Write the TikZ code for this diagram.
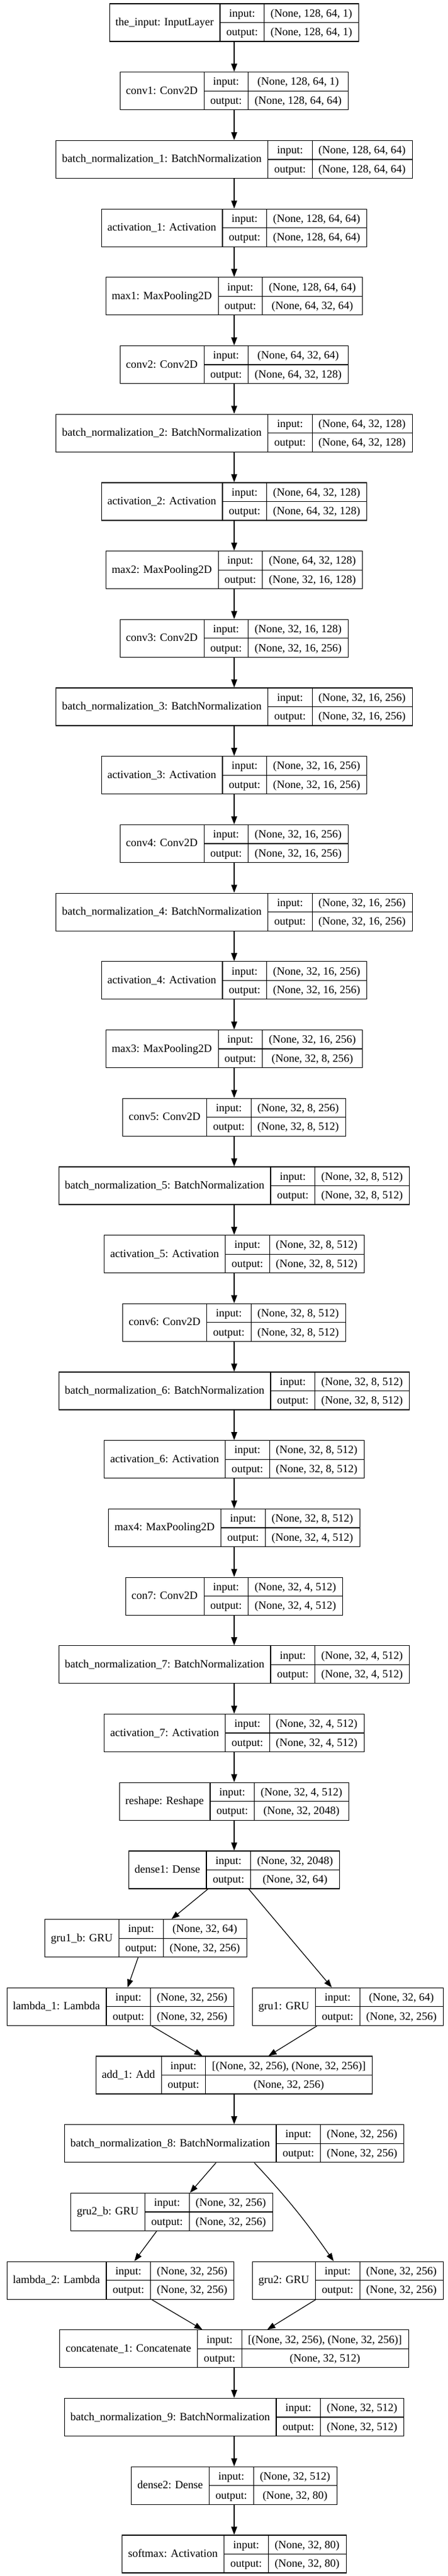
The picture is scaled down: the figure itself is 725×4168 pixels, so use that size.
\documentclass[tikz,border=0pt]{standalone}
\usepackage{fontspec}
\setmainfont{Liberation Serif}
\usetikzlibrary{arrows.meta,calc,positioning}

\newcommand\rfont{\fontsize{18}{21}\selectfont}
\newlength\wlab \newlength\wio \newlength\wshp \newlength\wtmp

% #1 node name, #2 x of centre, #3 rank, #4 layer, #5 input shape, #6 output shape
\newcommand\layer[6]{%
  \pgfinterruptpicture
    \settowidth\wtmp{\rfont #4}\global\wlab=\wtmp
    \settowidth\wtmp{\rfont output:}\global\wio=\wtmp
    \settowidth\wtmp{\rfont #5}\global\wshp=\wtmp
    \settowidth\wtmp{\rfont #6}\ifdim\wtmp>\wshp \global\wshp=\wtmp\fi
  \endpgfinterruptpicture
  \global\advance\wlab by 20.6pt
  \global\advance\wio by 20.6pt
  \global\advance\wshp by 20.6pt
  \node[record, minimum width=\wlab+\wio+\wshp] (#1) at (#2,{-36.5-(#3-1)*110.7}) {};
  \draw[rule] ([xshift=\wlab]#1.north west) -- ([xshift=\wlab]#1.south west);
  \draw[rule] ([xshift=\wlab+\wio]#1.north west) -- ([xshift=\wlab+\wio]#1.south west);
  \draw[rule] ([xshift=\wlab]#1.west) -- (#1.east);
  \path ([xshift=\wlab/2, yshift=-5pt]#1.west) node[txt] {#4};
  \path ([xshift=\wlab+\wio/2, yshift=9.25pt]#1.west) node[txt] {input:};
  \path ([xshift=\wlab+\wio/2, yshift=-21.25pt]#1.west) node[txt] {output:};
  \path ([xshift=\wlab+\wio+\wshp/2, yshift=9.25pt]#1.west) node[txt] {#5};
  \path ([xshift=\wlab+\wio+\wshp/2, yshift=-21.25pt]#1.west) node[txt] {#6};
}

\begin{document}
\begin{tikzpicture}[x=1pt,y=1pt]
\tikzstyle{record}=[draw, line width=1.2pt, minimum height=61pt, inner sep=0pt]
\tikzstyle{rule}=[line width=1.2pt]
\tikzstyle{txt}=[anchor=base, inner sep=0pt, font=\rfont]
\tikzstyle{every edge}=[draw, line width=1.2pt, -{Triangle[length=13pt,width=9.5pt]}]

\fill[white] (0,0) rectangle (725,-4168);
\useasboundingbox (0,0) rectangle (725,-4168);

% convolutional part
\layer{inp}{379}{1}{the\_input: InputLayer}{(None, 128, 64, 1)}{(None, 128, 64, 1)}
\layer{conv1}{379}{2}{conv1: Conv2D}{(None, 128, 64, 1)}{(None, 128, 64, 64)}
\layer{bn1}{379}{3}{batch\_normalization\_1: BatchNormalization}{(None, 128, 64, 64)}{(None, 128, 64, 64)}
\layer{act1}{379}{4}{activation\_1: Activation}{(None, 128, 64, 64)}{(None, 128, 64, 64)}
\layer{max1}{379}{5}{max1: MaxPooling2D}{(None, 128, 64, 64)}{(None, 64, 32, 64)}
\layer{conv2}{379}{6}{conv2: Conv2D}{(None, 64, 32, 64)}{(None, 64, 32, 128)}
\layer{bn2}{379}{7}{batch\_normalization\_2: BatchNormalization}{(None, 64, 32, 128)}{(None, 64, 32, 128)}
\layer{act2}{379}{8}{activation\_2: Activation}{(None, 64, 32, 128)}{(None, 64, 32, 128)}
\layer{max2}{379}{9}{max2: MaxPooling2D}{(None, 64, 32, 128)}{(None, 32, 16, 128)}
\layer{conv3}{379}{10}{conv3: Conv2D}{(None, 32, 16, 128)}{(None, 32, 16, 256)}
\layer{bn3}{379}{11}{batch\_normalization\_3: BatchNormalization}{(None, 32, 16, 256)}{(None, 32, 16, 256)}
\layer{act3}{379}{12}{activation\_3: Activation}{(None, 32, 16, 256)}{(None, 32, 16, 256)}
\layer{conv4}{379}{13}{conv4: Conv2D}{(None, 32, 16, 256)}{(None, 32, 16, 256)}
\layer{bn4}{379}{14}{batch\_normalization\_4: BatchNormalization}{(None, 32, 16, 256)}{(None, 32, 16, 256)}
\layer{act4}{379}{15}{activation\_4: Activation}{(None, 32, 16, 256)}{(None, 32, 16, 256)}
\layer{max3}{379}{16}{max3: MaxPooling2D}{(None, 32, 16, 256)}{(None, 32, 8, 256)}
\layer{conv5}{379}{17}{conv5: Conv2D}{(None, 32, 8, 256)}{(None, 32, 8, 512)}
\layer{bn5}{379}{18}{batch\_normalization\_5: BatchNormalization}{(None, 32, 8, 512)}{(None, 32, 8, 512)}
\layer{act5}{379}{19}{activation\_5: Activation}{(None, 32, 8, 512)}{(None, 32, 8, 512)}
\layer{conv6}{379}{20}{conv6: Conv2D}{(None, 32, 8, 512)}{(None, 32, 8, 512)}
\layer{bn6}{379}{21}{batch\_normalization\_6: BatchNormalization}{(None, 32, 8, 512)}{(None, 32, 8, 512)}
\layer{act6}{379}{22}{activation\_6: Activation}{(None, 32, 8, 512)}{(None, 32, 8, 512)}
\layer{max4}{379}{23}{max4: MaxPooling2D}{(None, 32, 8, 512)}{(None, 32, 4, 512)}
\layer{conv7}{379}{24}{con7: Conv2D}{(None, 32, 4, 512)}{(None, 32, 4, 512)}
\layer{bn7}{379}{25}{batch\_normalization\_7: BatchNormalization}{(None, 32, 4, 512)}{(None, 32, 4, 512)}
\layer{act7}{379}{26}{activation\_7: Activation}{(None, 32, 4, 512)}{(None, 32, 4, 512)}
\layer{reshape}{379}{27}{reshape: Reshape}{(None, 32, 4, 512)}{(None, 32, 2048)}
\layer{dense1}{379}{28}{dense1: Dense}{(None, 32, 2048)}{(None, 32, 64)}

% recurrent part
\layer{grub1}{236}{29}{gru1\_b: GRU}{(None, 32, 64)}{(None, 32, 256)}
\layer{lambda1}{195}{30}{lambda\_1: Lambda}{(None, 32, 256)}{(None, 32, 256)}
\layer{gru1}{563}{30}{gru1: GRU}{(None, 32, 64)}{(None, 32, 256)}
\layer{add1}{379}{31}{add\_1: Add}{[(None, 32, 256), (None, 32, 256)]}{(None, 32, 256)}
\layer{bn8}{379}{32}{batch\_normalization\_8: BatchNormalization}{(None, 32, 256)}{(None, 32, 256)}
\layer{grub2}{278}{33}{gru2\_b: GRU}{(None, 32, 256)}{(None, 32, 256)}
\layer{lambda2}{195}{34}{lambda\_2: Lambda}{(None, 32, 256)}{(None, 32, 256)}
\layer{gru2}{563}{34}{gru2: GRU}{(None, 32, 256)}{(None, 32, 256)}
\layer{concat1}{379}{35}{concatenate\_1: Concatenate}{[(None, 32, 256), (None, 32, 256)]}{(None, 32, 512)}
\layer{bn9}{379}{36}{batch\_normalization\_9: BatchNormalization}{(None, 32, 512)}{(None, 32, 512)}
\layer{dense2}{379}{37}{dense2: Dense}{(None, 32, 512)}{(None, 32, 80)}
\layer{softmax}{379}{38}{softmax: Activation}{(None, 32, 80)}{(None, 32, 80)}

\draw (inp) edge (conv1) (conv1) edge (bn1) (bn1) edge (act1) (act1) edge (max1)
      (max1) edge (conv2) (conv2) edge (bn2) (bn2) edge (act2) (act2) edge (max2)
      (max2) edge (conv3) (conv3) edge (bn3) (bn3) edge (act3) (act3) edge (conv4)
      (conv4) edge (bn4) (bn4) edge (act4) (act4) edge (max3) (max3) edge (conv5)
      (conv5) edge (bn5) (bn5) edge (act5) (act5) edge (conv6) (conv6) edge (bn6)
      (bn6) edge (act6) (act6) edge (max4) (max4) edge (conv7) (conv7) edge (bn7)
      (bn7) edge (act7) (act7) edge (reshape) (reshape) edge (dense1);
\draw ([xshift=-42.5pt]dense1.south) edge ([xshift=41.5pt]grub1.north);
\draw ([xshift=23.5pt]dense1.south) edge ([xshift=-26pt]gru1.north);
\draw ([xshift=-12.5pt]grub1.south) edge ([xshift=11.5pt]lambda1.north);
\draw ([xshift=50.5pt]lambda1.south) edge ([xshift=-51.5pt]add1.north);
\draw ([xshift=-50pt]gru1.south) edge ([xshift=55.5pt]add1.north);
\draw (add1) edge (bn8);
\draw ([xshift=-29.5pt]bn8.south) edge ([xshift=29.5pt]grub2.north);
\draw ([xshift=32.5pt]bn8.south) edge[out=-47,in=125] ([xshift=-23pt]gru2.north);
\draw ([xshift=-24.5pt]grub2.south) edge ([xshift=22.5pt]lambda2.north);
\draw ([xshift=50.5pt]lambda2.south) edge ([xshift=-51.5pt]concat1.north);
\draw ([xshift=-52pt]gru2.south) edge ([xshift=53.5pt]concat1.north);
\draw (concat1) edge (bn9) (bn9) edge (dense2) (dense2) edge (softmax);
\end{tikzpicture}
\end{document}
